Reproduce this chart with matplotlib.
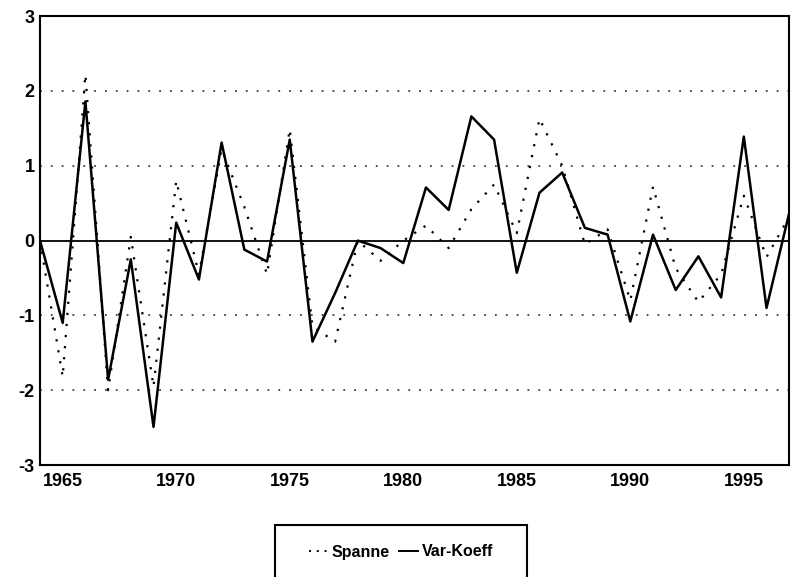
import matplotlib
matplotlib.use("Agg")
import matplotlib.pyplot as plt
from matplotlib.patches import Rectangle
from matplotlib.lines import Line2D

### rc settings
plt.rc('font', family=['Liberation Sans', 'DejaVu Sans'], weight='bold', size=13)
plt.rc('axes', linewidth=1.5, unicode_minus=False)
plt.rc(('xtick', 'ytick'), labelsize=13)

# data
years = list(range(1964, 1998))
var_koeff = [0.0, -1.10, 1.86, -1.86, -0.25, -2.49, 0.24, -0.52, 1.31, -0.12,
             -0.28, 1.35, -1.35, -0.70, 0.0, -0.10, -0.30, 0.71, 0.41, 1.66,
             1.35, -0.43, 0.64, 0.91, 0.17, 0.08, -1.08, 0.08, -0.66, -0.21,
             -0.76, 1.39, -0.90, 0.37]
spanne = [0.0, -1.82, 2.22, -2.00, 0.05, -1.95, 0.80, -0.45, 1.22, 0.45,
          -0.45, 1.49, -1.15, -1.35, 0.0, -0.27, 0.0, 0.20, -0.10, 0.42,
          0.75, 0.10, 1.63, 1.00, -0.05, 0.15, -0.80, 0.72, -0.37, -0.82,
          -0.45, 0.60, -0.22, 0.32]
x_ticks = [1965, 1970, 1975, 1980, 1985, 1990, 1995]
y_ticks = [-3, -2, -1, 0, 1, 2, 3]
grid_levels = [-2, -1, 1, 2]


def main():
    fig = plt.figure(figsize=(7.92, 5.77), dpi=100)
    ax = fig.add_axes([0.0505, 0.194, 0.946, 0.778])

    for g in grid_levels:
        ax.axhline(g, color='0.25', lw=1.3, ls=(0, (1, 5)), zorder=1)
    ax.axhline(0, color='k', lw=1.3, zorder=2)

    ax.plot(years, spanne, color='k', lw=1.6, ls=(0, (1, 4)), zorder=3)
    ax.plot(years, var_koeff, color='k', lw=1.8, zorder=4)

    ax.set_xlim(years[0], years[-1])
    ax.set_ylim(-3, 3)
    ax.set_xticks(x_ticks)
    ax.set_yticks(y_ticks)
    ax.tick_params(length=0)
    ax.tick_params(axis='y', pad=4)
    ax.tick_params(axis='x', pad=6)

    # legend box (runs off the bottom of the scan)
    fig.patches.append(Rectangle((275 / 792, -0.05), 252 / 792, 1 - 525 / 577 + 0.05,
                                 transform=fig.transFigure, fill=False,
                                 lw=1.5, ec='k'))
    handles = [Line2D([], [], color='k', lw=1.4, ls=(0, (1, 3))),
               Line2D([], [], color='k', lw=1.4)]
    leg = fig.legend(handles, ['Spanne', 'Var-Koeff'], loc='center',
                     bbox_to_anchor=(401 / 792, 1 - 552 / 577), ncol=2, frameon=False,
                     fontsize=11.5, handlelength=1.2, handletextpad=0.2, columnspacing=0.6)
    for t in leg.get_texts():
        t.set_va('baseline')

    plt.savefig("out.png", dpi=100)


if __name__ == "__main__":
    main()
